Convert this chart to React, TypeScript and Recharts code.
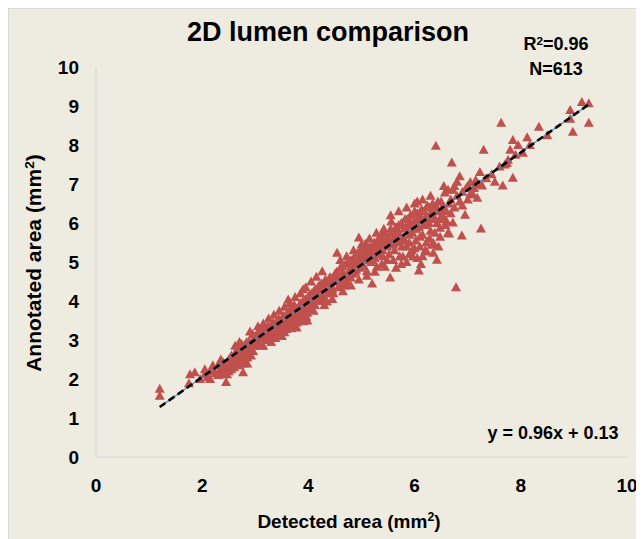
import React from "react";
import { ScatterChart, Scatter, XAxis, YAxis } from "recharts";

// [detected, annotated] in mm², grouped by detected range
const pointsBelow3: [number, number][] = [
  [1.2, 1.75], [1.2, 1.57], [1.77, 2.12], [1.86, 2.17], [1.75, 1.89], [1.96, 2.0],
  [2.05, 2.12], [2.1, 2.05], [2.15, 2.2], [2.2, 2.22], [2.25, 2.15], [2.3, 2.35],
  [2.32, 2.2], [2.38, 2.28], [2.4, 2.42], [2.45, 1.92], [2.47, 2.12], [2.45, 2.3],
  [2.5, 2.5], [2.52, 2.38], [2.55, 2.25], [2.6, 2.6], [2.62, 2.45], [2.65, 2.7],
  [2.68, 2.55], [2.7, 2.35], [2.72, 2.8], [2.75, 2.62], [2.77, 2.17], [2.78, 2.5],
  [2.8, 2.88], [2.82, 2.7], [2.85, 2.55], [2.88, 2.95], [2.9, 2.78], [2.92, 2.6],
  [2.95, 3.0], [2.98, 2.85], [2.6, 2.3], [2.4, 2.12], [2.2, 2.35], [2.85, 2.4],
  [2.55, 2.6], [2.58, 2.42], [2.63, 2.7], [2.66, 2.52], [2.7, 2.65], [2.74, 2.9],
  [2.76, 2.72], [2.8, 2.6], [2.84, 2.95], [2.86, 2.78], [2.9, 3.22], [2.93, 2.9],
  [2.96, 2.72], [2.05, 2.25], [2.3, 2.1], [2.5, 2.2], [2.62, 2.85], [2.7, 2.95],
  [2.78, 2.4], [2.88, 2.65], [2.95, 3.15], [2.35, 2.5], [2.15, 2.0],
];

const points3to45: [number, number][] = [
  [3.0, 3.1], [3.05, 2.95], [3.1, 3.2], [3.12, 3.05], [3.15, 2.85], [3.2, 3.3],
  [3.22, 3.12], [3.25, 3.0], [3.3, 3.35], [3.32, 3.2], [3.35, 3.05], [3.4, 3.45],
  [3.42, 3.3], [3.45, 3.15], [3.5, 3.55], [3.5, 3.38], [3.55, 3.2], [3.58, 3.5],
  [3.62, 4.04], [3.62, 3.65], [3.65, 3.42], [3.68, 3.3], [3.7, 3.7], [3.72, 3.55],
  [3.75, 3.85], [3.78, 3.45], [3.8, 3.78], [3.82, 3.62], [3.85, 3.95], [3.88, 3.72],
  [3.9, 4.3], [3.9, 3.48], [3.92, 3.85], [3.95, 4.05], [3.98, 3.7], [4.0, 3.95],
  [4.02, 4.15], [4.05, 3.82], [4.08, 4.05], [4.1, 4.25], [4.12, 3.9], [4.15, 4.1],
  [4.18, 4.35], [4.2, 4.0], [4.22, 4.2], [4.26, 4.76], [4.25, 4.45], [4.28, 4.1],
  [4.3, 4.3], [4.32, 4.55], [4.35, 3.99], [4.38, 4.25], [4.4, 4.45], [4.42, 4.6],
  [4.45, 4.3], [4.48, 4.5], [3.0, 3.0], [3.03, 3.15], [3.06, 2.88], [3.09, 3.27],
  [3.1, 3.05], [3.14, 3.28], [3.17, 3.1], [3.2, 3.0], [3.24, 3.38], [3.27, 3.2],
  [3.3, 3.1], [3.34, 3.45], [3.37, 3.28], [3.4, 3.2], [3.44, 3.55], [3.47, 3.35],
  [3.5, 3.25], [3.53, 3.62], [3.56, 3.4], [3.6, 3.7], [3.63, 3.5], [3.66, 3.8],
  [3.7, 3.55], [3.73, 3.9], [3.76, 3.62], [3.8, 3.5], [3.83, 3.9], [3.86, 3.68],
  [3.9, 4.0], [3.93, 3.75], [3.96, 3.6], [4.0, 4.12], [4.03, 3.88], [4.06, 4.2],
  [4.1, 3.95], [4.13, 4.3], [4.16, 4.05], [4.2, 4.4], [4.24, 4.15], [4.28, 4.35],
  [4.3, 4.05], [4.34, 4.45], [4.37, 4.2], [4.4, 4.6], [4.44, 4.38], [4.47, 4.2],
  [3.05, 3.35], [3.15, 3.42], [3.25, 3.55], [3.35, 3.65], [3.45, 3.75], [3.55, 3.85],
  [3.65, 3.95], [3.75, 4.1], [3.85, 4.2], [3.95, 4.35], [4.05, 4.5], [4.15, 4.62],
  [3.1, 2.85], [3.3, 2.95], [3.5, 3.1], [3.7, 3.35], [3.9, 3.58], [4.1, 3.75],
  [4.3, 3.9], [4.45, 4.05], [3.38, 3.05], [3.58, 3.28], [3.78, 3.32], [3.98, 3.5],
];

const points45to55: [number, number][] = [
  [4.5, 4.7], [4.5, 4.5], [4.54, 5.24], [4.55, 4.6], [4.58, 4.4], [4.6, 4.85],
  [4.62, 4.55], [4.65, 4.75], [4.68, 4.4], [4.7, 4.95], [4.73, 4.48], [4.75, 4.7],
  [4.78, 5.0], [4.8, 4.6], [4.82, 4.85], [4.85, 5.1], [4.88, 4.75], [4.9, 4.95],
  [4.93, 5.24], [4.95, 5.63], [4.97, 4.85], [5.0, 5.15], [5.02, 4.95], [5.05, 5.3],
  [5.07, 5.47], [5.1, 4.76], [5.1, 5.05], [5.12, 5.25], [5.15, 5.4], [5.18, 5.0],
  [5.2, 5.2], [5.22, 5.45], [5.25, 5.1], [5.28, 5.35], [5.29, 4.88], [5.3, 5.55],
  [5.32, 5.2], [5.35, 5.45], [5.38, 5.7], [5.4, 5.3], [5.42, 5.55], [5.44, 4.88],
  [5.45, 5.75], [5.48, 5.4], [4.53, 4.75], [4.57, 4.55], [4.6, 4.35], [4.64, 4.9],
  [4.67, 4.65], [4.7, 4.5], [4.74, 4.95], [4.77, 4.8], [4.8, 5.05], [4.84, 4.7],
  [4.87, 5.0], [4.9, 4.8], [4.94, 5.1], [4.98, 5.3], [5.01, 5.05], [5.04, 4.9],
  [5.08, 5.2], [5.11, 5.38], [5.14, 5.12], [5.17, 5.3], [5.2, 5.05], [5.24, 5.5],
  [5.27, 5.25], [5.3, 5.4], [5.34, 5.6], [5.37, 5.35], [5.4, 5.15], [5.44, 5.5],
  [5.47, 5.65], [4.73, 4.48], [4.6, 5.05], [4.72, 5.15], [4.85, 5.3], [5.0, 5.45],
  [5.15, 5.6], [5.28, 5.75], [5.42, 5.85], [4.65, 4.25], [4.8, 4.4], [4.95, 4.55],
  [5.1, 4.65], [5.25, 4.75], [5.38, 4.95], [5.48, 5.05], [5.2, 4.45],
];

const points55to65: [number, number][] = [
  [5.5, 5.6], [5.52, 5.2], [5.54, 4.6], [5.55, 5.85], [5.56, 6.04], [5.58, 5.45],
  [5.6, 5.65], [5.62, 5.3], [5.65, 5.9], [5.68, 5.5], [5.7, 5.75], [5.72, 5.15],
  [5.75, 6.0], [5.78, 5.14], [5.78, 5.55], [5.8, 5.85], [5.82, 6.1], [5.85, 5.4],
  [5.88, 5.95], [5.9, 5.7], [5.92, 6.2], [5.95, 5.3], [5.97, 5.14], [5.98, 5.85],
  [6.0, 6.05], [6.02, 5.55], [6.05, 6.55], [6.05, 6.25], [6.08, 4.78], [6.08, 5.9],
  [6.1, 5.4], [6.12, 6.15], [6.15, 5.7], [6.18, 6.3], [6.2, 5.95], [6.22, 5.5],
  [6.23, 5.27], [6.25, 6.1], [6.28, 6.4], [6.3, 5.8], [6.33, 5.45], [6.35, 6.2],
  [6.35, 5.24], [6.38, 5.75], [6.4, 7.98], [6.4, 6.45], [6.42, 5.06], [6.42, 6.0],
  [6.45, 6.3], [6.48, 5.88], [5.53, 5.5], [5.57, 5.75], [5.6, 5.45], [5.63, 5.8],
  [5.66, 5.6], [5.7, 5.95], [5.73, 5.65], [5.76, 5.4], [5.8, 5.6], [5.83, 5.9],
  [5.86, 6.1], [5.9, 5.5], [5.93, 6.0], [5.96, 5.75], [6.0, 6.3], [6.03, 5.85],
  [6.06, 6.1], [6.1, 5.65], [6.13, 6.35], [6.16, 5.95], [6.2, 6.15], [6.24, 6.45],
  [6.27, 6.0], [6.3, 6.25], [6.34, 6.5], [6.37, 6.1], [6.4, 6.3], [6.44, 6.55],
  [6.47, 6.1], [6.33, 5.45], [5.55, 6.2], [5.7, 6.3], [5.85, 6.4], [6.0, 6.5],
  [6.15, 6.6], [6.3, 6.7], [5.6, 5.05], [5.75, 4.95], [5.9, 5.2], [6.05, 5.1],
  [6.2, 5.3], [6.35, 5.5], [6.45, 5.4], [5.65, 4.85], [5.85, 5.0], [6.0, 5.35],
  [6.15, 5.15], [6.28, 5.6], [6.48, 5.65], [6.12, 4.95],
];

const pointsAbove65: [number, number][] = [
  [6.5, 6.55], [6.5, 6.35], [6.52, 6.2], [6.54, 6.16], [6.55, 6.4], [6.57, 6.78],
  [6.6, 6.3], [6.63, 6.85], [6.63, 5.75], [6.65, 5.73], [6.65, 6.5], [6.68, 6.6],
  [6.7, 7.55], [6.72, 6.85], [6.72, 6.01], [6.75, 6.4], [6.78, 4.35], [6.8, 7.06],
  [6.8, 6.7], [6.85, 6.55], [6.89, 5.68], [6.9, 6.8], [6.95, 6.21], [6.97, 6.9],
  [7.0, 6.95], [7.05, 6.75], [7.1, 6.73], [7.15, 7.1], [7.18, 6.65], [7.23, 7.31],
  [7.25, 5.86], [7.27, 6.96], [7.3, 7.88], [7.35, 7.15], [7.45, 7.25], [7.51, 7.06],
  [7.6, 7.45], [7.63, 8.57], [7.66, 6.96], [7.7, 7.5], [7.74, 7.54], [7.76, 7.62],
  [7.8, 7.88], [7.85, 7.16], [7.85, 8.13], [7.9, 7.75], [7.95, 8.0], [8.04, 7.8],
  [8.12, 8.2], [8.17, 8.0], [8.34, 8.47], [8.5, 8.25], [8.93, 8.9], [8.93, 8.67],
  [8.98, 8.34], [9.15, 9.1], [9.28, 9.07], [9.28, 8.57], [6.55, 6.95], [6.6, 6.05],
  [6.68, 6.25], [6.75, 6.95], [6.85, 7.2], [6.9, 6.45], [7.0, 6.6], [7.05, 7.05],
  [7.12, 6.9], [7.2, 7.0], [6.58, 5.95],
];

const xTicks = [0, 2, 4, 6, 8, 10];
const yTicks = [0, 1, 2, 3, 4, 5, 6, 7, 8, 9, 10];

// linear fit shown on the chart
const trendSlope = 0.96;
const trendIntercept = 0.13;
const trendFrom = 1.2;
const trendTo = 9.3;

const data = [
  ...pointsBelow3,
  ...points3to45,
  ...points45to55,
  ...points55to65,
  ...pointsAbove65,
].map(([x, y]) => ({ x, y }));

const trendData = [trendFrom, trendTo].map((x) => ({ x, y: trendSlope * x + trendIntercept }));

const FONT = "'Liberation Sans', Arial, sans-serif";
const RED = "#C0504D";

function Triangle(props: any) {
  const { cx, cy } = props;
  if (cx == null || cy == null) return null;
  return (
    <polygon
      points={`${cx},${cy - 5} ${cx + 5},${cy + 4} ${cx - 5},${cy + 4}`}
      fill={RED}
    />
  );
}

const NoDot = () => <g />;

const tickStyle = { fontSize: 19, fontWeight: 700, fill: "#000", fontFamily: FONT };

function Txt({ x, y, size, children, rotate }: any) {
  return (
    <div
      style={{
        position: "absolute",
        left: x,
        top: y,
        transform: `translate(-50%, -50%)${rotate ? ` rotate(${rotate}deg)` : ""}`,
        fontSize: size,
        fontWeight: 700,
        lineHeight: 1,
        whiteSpace: "nowrap",
        color: "#000",
        fontFamily: FONT,
      }}
    >
      {children}
    </div>
  );
}

const sup = { fontSize: "0.65em", verticalAlign: "0.5em" };

export default function App() {
  return (
    <div
      style={{
        position: "relative",
        width: 635,
        height: 530,
        background: "#EEECE1",
        borderLeft: "1px solid #D9D9D9",
        borderTop: "1px solid #D9D9D9",
      }}
    >
      <ScatterChart width={635} height={530} margin={{ top: 58, right: 17, bottom: 0, left: 0 }}>
        <XAxis
          type="number"
          dataKey="x"
          domain={[0, 10]}
          ticks={xTicks}
          height={82}
          tickSize={0}
          tickMargin={22}
          tickLine={false}
          axisLine={{ stroke: "#D4D4D4" }}
          tick={tickStyle}
        />
        <YAxis
          type="number"
          dataKey="y"
          domain={[0, 10]}
          ticks={yTicks}
          width={87}
          tickSize={0}
          tickMargin={17}
          tickLine={false}
          axisLine={{ stroke: "#D4D4D4" }}
          tick={tickStyle}
        />
        <Scatter data={data} shape={<Triangle />} isAnimationActive={false} />
        <Scatter
          data={trendData}
          line={{ stroke: "#4F81BD", strokeWidth: 1.2 }}
          shape={<NoDot />}
          isAnimationActive={false}
        />
        <Scatter
          data={trendData}
          line={{ stroke: "#000", strokeWidth: 2.6, strokeDasharray: "7 4" }}
          shape={<NoDot />}
          isAnimationActive={false}
        />
      </ScatterChart>
      <Txt x={319} y={23} size={27}>2D lumen comparison</Txt>
      <Txt x={547} y={35} size={18}>
        R<span style={sup}>2</span>=0.96
      </Txt>
      <Txt x={547} y={60} size={18}>N=613</Txt>
      <Txt x={544} y={424} size={18}>y = 0.96x + 0.13</Txt>
      <Txt x={340} y={512} size={19}>
        Detected area (mm<span style={sup}>2</span>)
      </Txt>
      <Txt x={24} y={254} size={21} rotate={-90}>
        Annotated area (mm<span style={sup}>2</span>)
      </Txt>
    </div>
  );
}
